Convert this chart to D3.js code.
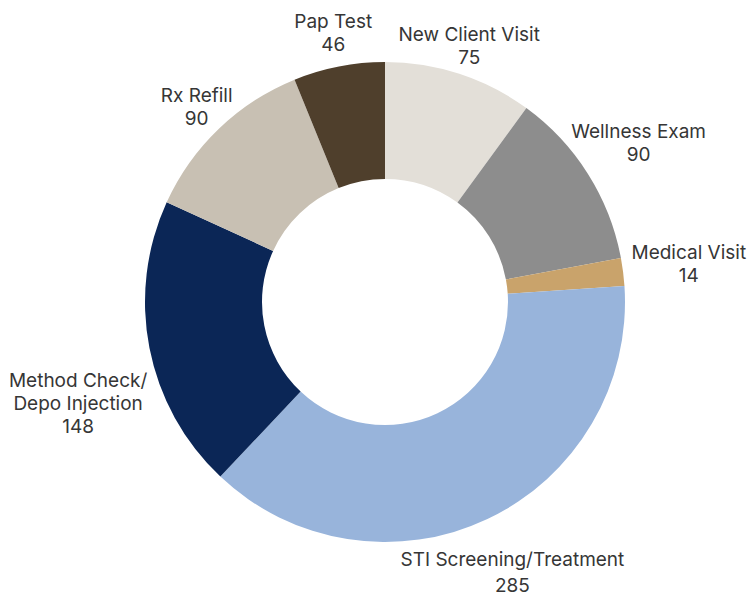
<!DOCTYPE html>
<html>
<head>
<meta charset="utf-8">
<script src="https://cdn.jsdelivr.net/npm/d3@7"></script>
<style>
  body { margin: 0; background: #fff; }
  text { font-family: Inter, "Noto Sans", sans-serif; font-size: 19px; fill: #363636; }
</style>
</head>
<body>
<svg id="chart"></svg>
<script>
// Chart size

const width = 748;
const height = 596;

// Data (clockwise from 12 o'clock)

const categories = ["New Client Visit", "Wellness Exam", "Medical Visit", "STI Screening/Treatment",
  "Method Check/\nDepo Injection", "Rx Refill", "Pap Test"];
const visits = [75, 90, 14, 285, 148, 90, 46];

// Slice colours, same order

const colorMap = ["#e3dfd8", "#8d8d8d", "#c9a36b", "#98b4db", "#0b2656", "#c8c0b3", "#4f3f2c"];

// Donut geometry

const cx = 385;
const cy = 302;
const outerR = 240;
const innerR = 123;
const labelR = 275;
const lineHeight = 23;

// Small nudges so the labels sit where the original put them

const labelNudge = [[-1, 0], [21, -17], [31, -8], [10, 15], [-37, 32], [2, -2], [1, -4]];

const data = categories.map((c, i) => ({ name: c, value: visits[i] }));

const svg = d3.select("#chart")
  .attr("width", width)
  .attr("height", height);

const g = svg.append("g")
  .attr("transform", "translate(" + cx + "," + cy + ")");

const pie = d3.pie()
  .sort(null)
  .value((d) => d.value);

const arc = d3.arc()
  .innerRadius(innerR)
  .outerRadius(outerR);

const labelArc = d3.arc()
  .innerRadius(labelR)
  .outerRadius(labelR);

const arcs = pie(data);

g.selectAll("path")
  .data(arcs)
  .enter()
  .append("path")
  .attr("d", arc)
  .attr("fill", (d, i) => colorMap[i]);

// Labels: name lines, then the value

const labels = g.selectAll(".label")
  .data(arcs)
  .enter()
  .append("text")
  .attr("class", "label")
  .attr("text-anchor", "middle")
  .attr("transform", function (d, i) {
    const c = labelArc.centroid(d);
    return "translate(" + (c[0] + labelNudge[i][0]) + "," + (c[1] + labelNudge[i][1]) + ")";
  });

labels.each(function (d) {
  const lines = d.data.name.split("\n").concat([String(d.data.value)]);
  // the big bottom label has a bit more room between its lines
  const lh = d.data.value === 285 ? 26 : lineHeight;
  d3.select(this).selectAll("tspan")
    .data(lines)
    .enter()
    .append("tspan")
    .attr("x", 0)
    .attr("y", (l, j) => j * lh)
    .text((l) => l);
});
</script>
</body>
</html>
